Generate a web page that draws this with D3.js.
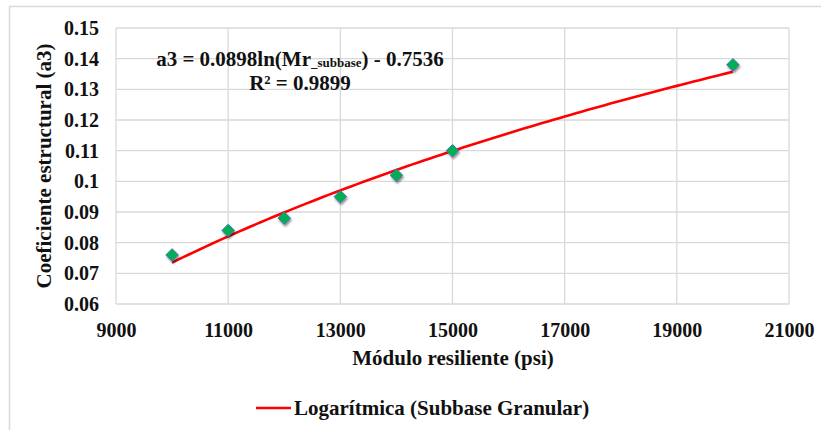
<!DOCTYPE html>
<html>
<head>
<meta charset="utf-8">
<script src="https://cdn.jsdelivr.net/npm/d3@7"></script>
<style>
  body { margin: 0; background: #fff; }
  svg text { font-family: "Liberation Serif", "Times New Roman", Times, serif; font-weight: bold; fill: #111; }
</style>
</head>
<body>
<svg id="chart" width="821" height="430"></svg>
<script>
// valores
const modulo = [10000, 11000, 12000, 13000, 14000, 15000, 20000]
const coef = [0.076, 0.084, 0.088, 0.095, 0.102, 0.110, 0.138]
const xTicks = [9000, 11000, 13000, 15000, 17000, 19000, 21000]
const yTicks = [0.06, 0.07, 0.08, 0.09, 0.1, 0.11, 0.12, 0.13, 0.14, 0.15]
const trendA = 0.0898
const trendB = -0.7536
const trendRange = [10000, 20000]

const FONT = '"Liberation Serif", "Times New Roman", Times, serif'
const svg = d3.select('#chart')
const m = { left: 116, right: 789, top: 28, bottom: 304 }

// borde exterior del area del grafico
svg.append('rect')
  .attr('x', 9.5).attr('y', 6.5).attr('width', 830).attr('height', 440)
  .attr('fill', 'none').attr('stroke', '#d9d9d9').attr('stroke-width', 1.5)

const x = d3.scaleLinear().domain([9000, 21000]).range([m.left, m.right])
const y = d3.scaleLinear().domain([0.06, 0.15]).range([m.bottom, m.top])

const grid = svg.append('g').attr('stroke', '#d9d9d9').attr('stroke-width', 1.3)
grid.selectAll('.gy').data(yTicks).enter().append('line')
  .attr('x1', m.left).attr('x2', m.right)
  .attr('y1', d => y(d)).attr('y2', d => y(d))
grid.selectAll('.gx').data(xTicks).enter().append('line')
  .attr('y1', m.top).attr('y2', m.bottom)
  .attr('x1', d => x(d)).attr('x2', d => x(d))

// etiquetas de ejes
const yAxis = d3.axisLeft(y).tickValues(yTicks).tickSize(0).tickPadding(17)
  .tickFormat(d => d3.format('')(+d.toFixed(2)))
const gy = svg.append('g').attr('transform', `translate(${m.left},0)`).call(yAxis)
gy.attr('font-family', null).attr('font-size', null)
gy.select('.domain').remove()
gy.selectAll('text').style('font-size', '20px').style('font-family', FONT).style('font-weight', 'bold').attr('fill', '#111')

const xAxis = d3.axisBottom(x).tickValues(xTicks).tickSize(0).tickPadding(19).tickFormat(d3.format('d'))
const gx = svg.append('g').attr('transform', `translate(0,${m.bottom})`).call(xAxis)
gx.attr('font-family', null).attr('font-size', null)
gx.select('.domain').remove()
gx.selectAll('text').style('font-size', '20px').style('font-family', FONT).style('font-weight', 'bold').attr('fill', '#111')

svg.append('text').attr('x', 453).attr('y', 365)
  .attr('text-anchor', 'middle').style('font-size', '21px').text('Módulo resiliente (psi)')
svg.append('text').attr('transform', `translate(51,${(m.top + m.bottom) / 2}) rotate(-90)`)
  .attr('text-anchor', 'middle').style('font-size', '21px').text('Coeficiente estructural (a3)')

// linea de tendencia logaritmica
const trend = d3.range(trendRange[0], trendRange[1] + 1, 100)
svg.append('path')
  .datum(trend)
  .attr('fill', 'none').attr('stroke', '#ff0000').attr('stroke-width', 2.6)
  .attr('d', d3.line().x(d => x(d)).y(d => y(trendA * Math.log(d) + trendB)))

// marcadores
const defs = svg.append('defs')
const f = defs.append('filter').attr('id', 'sh').attr('x', '-50%').attr('y', '-50%').attr('width', '200%').attr('height', '200%')
f.append('feGaussianBlur').attr('in', 'SourceAlpha').attr('stdDeviation', 1.2)
f.append('feOffset').attr('dx', 1).attr('dy', 1.5).attr('result', 'b')
f.append('feComponentTransfer').append('feFuncA').attr('type', 'linear').attr('slope', 0.45)
const mg = f.append('feMerge')
mg.append('feMergeNode')
mg.append('feMergeNode').attr('in', 'SourceGraphic')

svg.append('g').selectAll('path').data(modulo).enter().append('path')
  .attr('d', d3.symbol(d3.symbolDiamond2, 100)())
  .attr('transform', (d, i) => `translate(${x(d)},${y(coef[i])})`)
  .attr('fill', '#00b050').attr('stroke', '#4472c4').attr('stroke-width', 1)
  .attr('filter', 'url(#sh)')

// ecuacion
const eq = svg.append('text').attr('x', 300).attr('y', 66).attr('text-anchor', 'middle').style('font-size', '21px')
eq.append('tspan').text('a3 = 0.0898ln(Mr')
eq.append('tspan').style('font-size', '13px').attr('dy', 1).text('_subbase')
eq.append('tspan').attr('dy', -1).text(') - 0.7536')
svg.append('text').attr('x', 300).attr('y', 90).attr('text-anchor', 'middle').style('font-size', '21px').text('R² = 0.9899')

// leyenda
svg.append('line').attr('x1', 256).attr('x2', 291).attr('y1', 408).attr('y2', 408)
  .attr('stroke', '#ff0000').attr('stroke-width', 2.6)
svg.append('text').attr('x', 294).attr('y', 415).style('font-size', '21px').text('Logarítmica (Subbase Granular)')
</script>
</body>
</html>
